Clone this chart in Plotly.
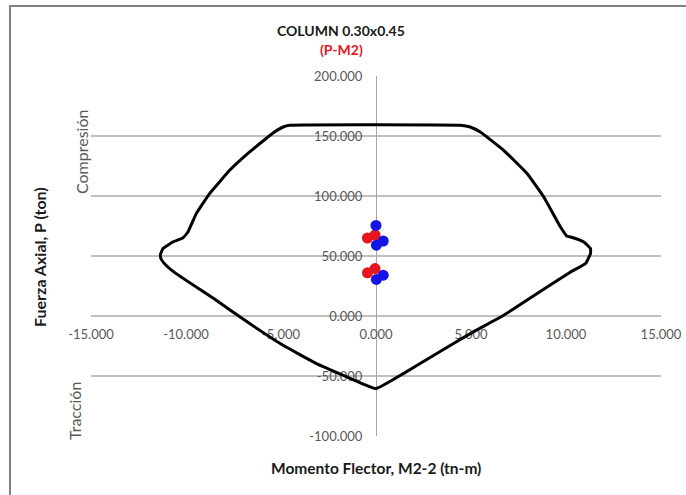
import plotly.graph_objects as go

# Interaction diagram contour (M2-2 in tn-m, P in ton)
curve_m = [0.0, -1.72, -3.13, -4.89, -6.65, -8.41, -10.52, -11.05, -11.31, -11.35, -11.22,
           -10.70, -10.17, -9.90, -9.46, -8.76, -7.70, -6.65, -5.42, -4.89, -4.54,
           4.43, 4.96, 5.49, 6.72, 7.95, 8.83, 9.71, 10.06, 10.24, 10.94, 11.29, 11.29,
           11.03, 10.24, 8.48, 6.72, 4.96, 3.20, 1.44, 0.0]
curve_p = [-60.5, -49.4, -39.7, -24.4, -6.3, 13.1, 35.3, 42.3, 47.5, 51.0, 56.0,
           61.7, 65.0, 70.0, 85.3, 102.0, 121.4, 136.7, 152.5, 157.5, 158.9,
           158.9, 157.5, 153.3, 138.1, 118.7, 99.2, 74.2, 66.5, 65.8, 61.7, 56.2, 52.0,
           43.7, 36.7, 18.7, 0.6, -14.7, -31.3, -48.0, -60.5]

# Demand points
red_m = [-0.45, -0.05, -0.05, -0.45]
red_p = [65.0, 67.5, 39.5, 36.0]
blue_m = [0.0, 0.38, 0.02, 0.38, 0.02]
blue_p = [75.5, 62.5, 59.0, 34.0, 30.5]

x_ticks = [-15, -10, -5, 0, 5, 10, 15]
y_ticks = [-100, -50, 0, 50, 100, 150, 200]
x_labels = [f"{v:.3f}" for v in x_ticks]
y_labels = [f"{v:.3f}" for v in y_ticks]

W, H = 686, 495
L, R, T, B = 91, 25, 76, 59
PW, PH = W - L - R, H - T - B

def px(x):
    return (x - L) / PW

def py(y):
    return (H - B - y) / PH

FONT = "Lato"
fig = go.Figure()
fig.add_trace(go.Scatter(x=curve_m, y=curve_p, mode="lines",
                         line=dict(color="black", width=3, shape="spline", smoothing=0.3),
                         hoverinfo="skip", showlegend=False))
fig.add_trace(go.Scatter(x=red_m, y=red_p, mode="markers",
                         marker=dict(color="#e8141e", size=11), showlegend=False))
fig.add_trace(go.Scatter(x=blue_m, y=blue_p, mode="markers",
                         marker=dict(color="#1414e6", size=11), showlegend=False))

fig.update_layout(
    width=W, height=H,
    margin=dict(l=L, r=R, t=T, b=B, autoexpand=False),
    paper_bgcolor="white", plot_bgcolor="white",
    font=dict(family=FONT, size=13, color="#595959"),
    xaxis=dict(range=[-15, 15], tickvals=x_ticks, ticktext=x_labels,
               showgrid=False, zeroline=False, showline=False,
               anchor="free", position=1/3, layer="below traces",
               ticks="outside", ticklen=6, tickcolor="rgba(0,0,0,0)",
               tickfont=dict(family=FONT, size=13, color="#595959")),
    yaxis=dict(range=[-100, 200], tickvals=y_ticks, ticktext=y_labels,
               showgrid=True, gridcolor="#bfbfbf", gridwidth=1.5,
               zeroline=False, showline=True, linecolor="#a6a6a6", linewidth=1,
               anchor="free", position=0.5, layer="below traces",
               ticks="outside", ticklen=11, tickcolor="rgba(0,0,0,0)",
               tickfont=dict(family=FONT, size=13, color="#595959")),
)

annotations = [
    dict(text="<b>COLUMN 0.30x0.45</b>", x=px(341), y=py(30), font=dict(size=14, color="#1a1a1a")),
    dict(text="<b>(P-M2)</b>", x=px(341), y=py(49), font=dict(size=14, color="#e8141e")),
    dict(text="<b>Momento Flector, M2-2 (tn-m)</b>", x=px(376), y=py(468), font=dict(size=15.5, color="#1a1a1a")),
    dict(text="<b>Fuerza Axial, P (ton)</b>", x=px(39), y=py(257), textangle=-90, font=dict(size=16, color="#1a1a1a")),
    dict(text="Compresión", x=px(81), y=py(152), textangle=-90, font=dict(size=16, color="#595959")),
    dict(text="Tracción", x=px(74), y=py(411), textangle=-90, font=dict(size=16, color="#595959")),
]
for a in annotations:
    a.update(xref="paper", yref="paper", showarrow=False, xanchor="center", yanchor="middle")
    a["font"]["family"] = FONT
fig.update_layout(annotations=annotations)

# outer frame (top and left edges)
fig.add_shape(type="line", xref="paper", yref="paper",
              x0=px(9), x1=px(690), y0=py(6), y1=py(6),
              line=dict(color="#808080", width=2), layer="above")
fig.add_shape(type="line", xref="paper", yref="paper",
              x0=px(10), x1=px(10), y0=py(5), y1=py(500),
              line=dict(color="#808080", width=2), layer="above")

fig.write_html("out.html", config={"displayModeBar": False},
               post_script="document.body.style.margin='0px';")
